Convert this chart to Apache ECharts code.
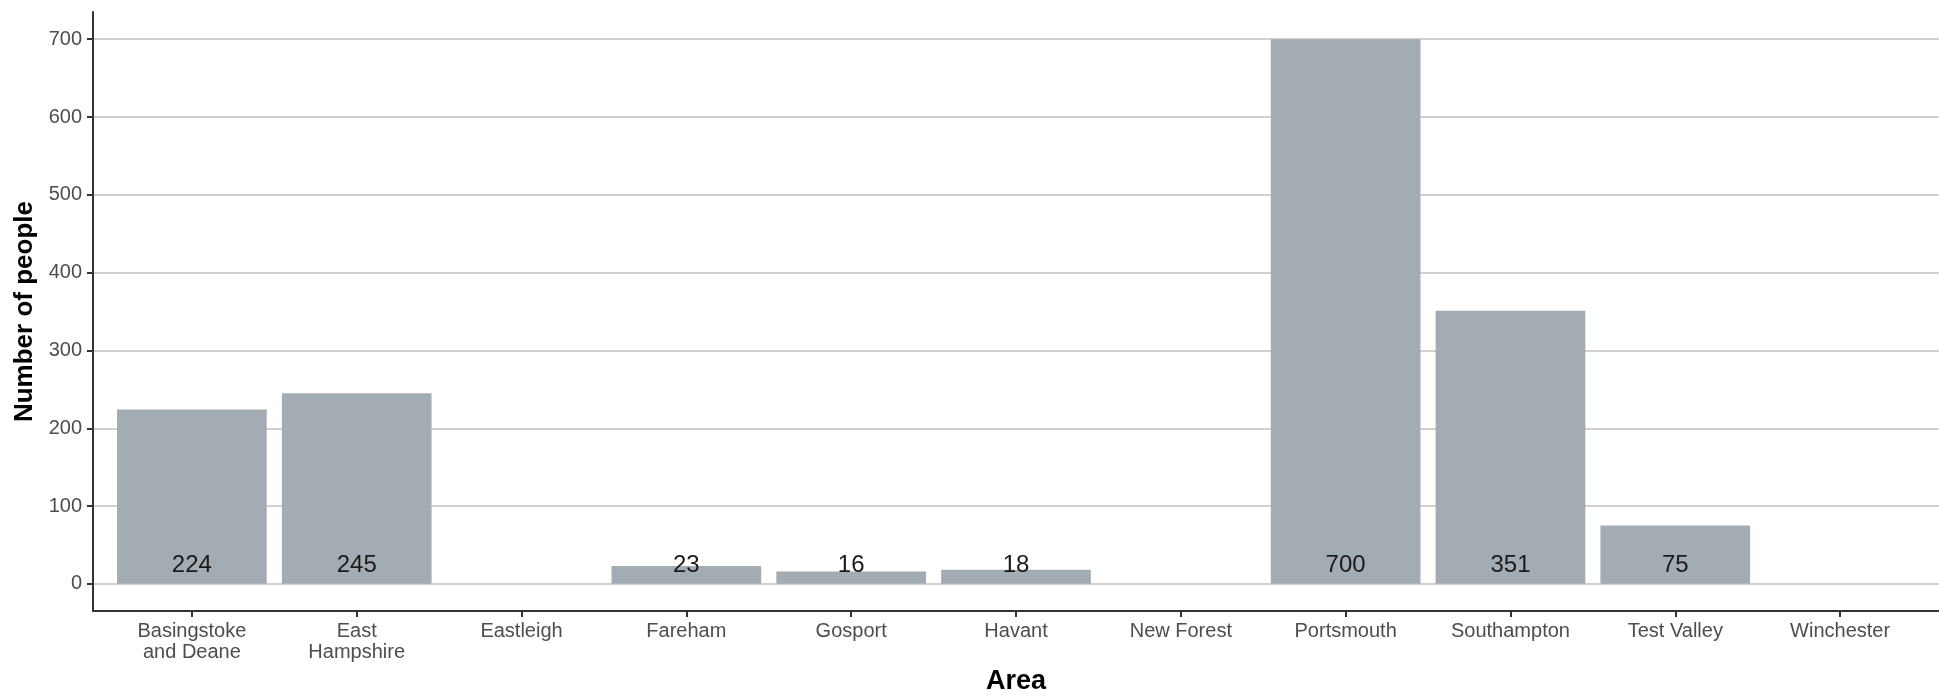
<!DOCTYPE html>
<html>
<head>
<meta charset="utf-8">
<script src="https://cdn.jsdelivr.net/npm/echarts@6/dist/echarts.min.js"></script>
<style>
html,body{margin:0;padding:0;background:#fff;}
#chart{width:1939px;height:700px;}
</style>
</head>
<body>
<div id="chart"></div>
<script>
const categories = ['Basingstoke\nand Deane','East\nHampshire','Eastleigh','Fareham','Gosport','Havant','New Forest','Portsmouth','Southampton','Test Valley','Winchester'];
const values = [224, 245, null, 23, 16, 18, null, 700, 351, 75, null];
const yTicks = [0, 100, 200, 300, 400, 500, 600, 700];
const xTicks = categories.map((c, i) => i + 1);

const FONT = '"Liberation Sans", Arial, Helvetica, sans-serif';
const gridLeft = 93, gridRight = -17;
const gridWidth = 1939 - gridLeft - gridRight;
const barWidth = 0.9 * gridWidth / 11.2;

const barData = [];
values.forEach((v, i) => { if (v !== null) barData.push([i + 1, v]); });

const chart = echarts.init(document.getElementById('chart'), null, {renderer: 'canvas'});
chart.setOption({
  animation: false,
  backgroundColor: '#ffffff',
  grid: {left: gridLeft, right: gridRight, top: 12, bottom: 81, containLabel: false},
  xAxis: {
    type: 'value', min: 0.4, max: 11.6,
    name: 'Area', nameLocation: 'middle', nameGap: 55,
    nameTextStyle: {fontFamily: FONT, fontSize: 27, fontWeight: 'bold', color: '#000'},
    axisLine: {show: true, onZero: false, lineStyle: {color: '#333333', width: 2}},
    axisTick: {show: true, customValues: xTicks, length: 6, lineStyle: {color: '#333333', width: 2}},
    axisLabel: {customValues: xTicks, margin: 10, fontFamily: FONT, fontSize: 20, color: '#4d4d4d', lineHeight: 21,
      formatter: v => categories[Math.round(v) - 1]},
    splitLine: {show: false}
  },
  yAxis: {
    type: 'value', min: -35, max: 735,
    name: 'Number of people', nameLocation: 'middle', nameGap: 54, nameRotate: 90,
    nameTextStyle: {fontFamily: FONT, fontSize: 26, fontWeight: 'bold', color: '#000'},
    axisLine: {show: true, onZero: false, lineStyle: {color: '#333333', width: 2}},
    axisTick: {show: true, customValues: yTicks, length: 6, lineStyle: {color: '#333333', width: 2}},
    axisLabel: {customValues: yTicks, margin: 11, fontFamily: FONT, fontSize: 20, color: '#4d4d4d'},
    splitLine: {show: true, lineStyle: {color: '#c0c0c0', width: 1.5}}
  },
  series: [{
    type: 'bar',
    data: barData,
    barWidth: barWidth,
    itemStyle: {color: '#a4acb3'},
    label: {show: true, position: 'insideBottom', distance: 6, fontFamily: FONT, fontSize: 24, color: '#1a1a1a',
      formatter: p => String(p.value[1])}
  }]
});
</script>
</body>
</html>
